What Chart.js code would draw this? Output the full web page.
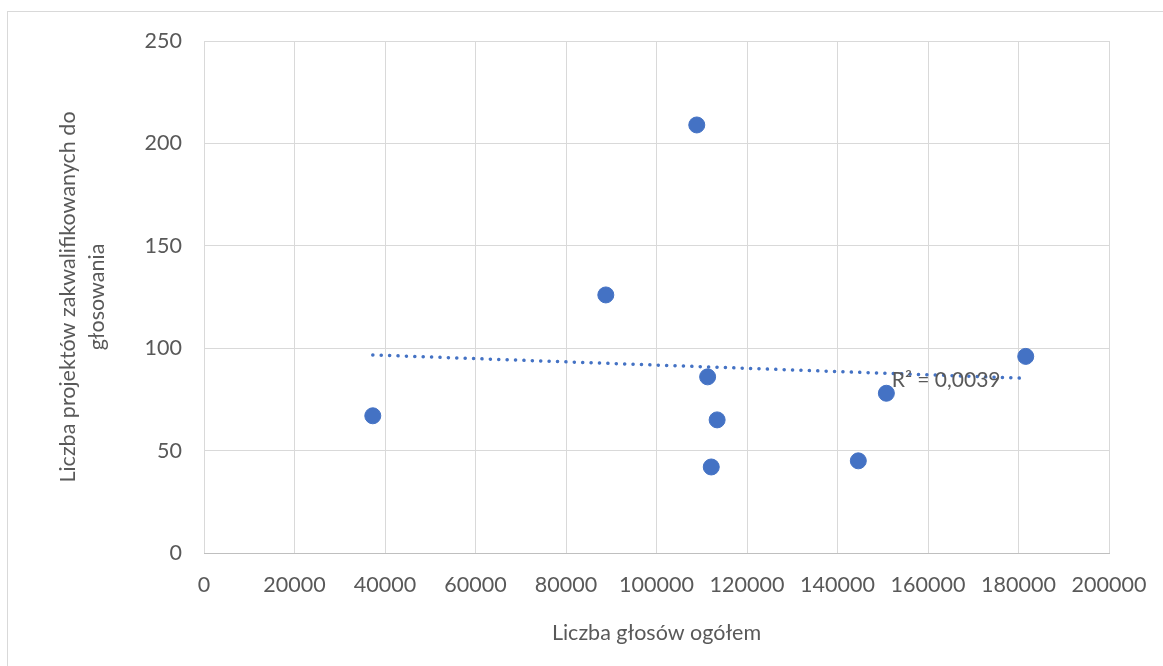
<!DOCTYPE html>
<html lang="pl">
<head>
  <meta charset="UTF-8">
  <title>Liczba projektów a liczba głosów</title>
  <script src="https://cdn.jsdelivr.net/npm/chart.js"></script>
  <style>
    html, body { margin: 0; padding: 0; background: #fff; }
    .wrap { width: 1163px; height: 666px; position: relative; }
  </style>
</head>
<body>
  <div class="wrap"><canvas id="chart"></canvas></div>

  <script>
    // dane
    const glosy = [37300, 88800, 108900, 111300, 113400, 112100, 144600, 150800, 181600];
    const projekty = [67, 126, 209, 86, 65, 42, 45, 78, 96];
    const xTicks = [0, 20000, 40000, 60000, 80000, 100000, 120000, 140000, 160000, 180000, 200000];
    const yTicks = [0, 50, 100, 150, 200, 250];
    const r2Label = 'R² = 0,0039';

    const textColor = '#595959';
    const gridColor = '#d9d9d9';
    const blue = '#4472c4';
    const fontFamily = 'Lato, "Open Sans", sans-serif';

    // linia trendu (regresja liniowa)
    const n = glosy.length;
    const mx = glosy.reduce((a, b) => a + b, 0) / n;
    const my = projekty.reduce((a, b) => a + b, 0) / n;
    let sxy = 0, sxx = 0;
    for (let i = 0; i < n; i++) {
      sxy += (glosy[i] - mx) * (projekty[i] - my);
      sxx += (glosy[i] - mx) ** 2;
    }
    const slope = sxy / sxx;
    const intercept = my - slope * mx;
    const xMin = Math.min(...glosy), xMax = Math.max(...glosy);
    const trend = [
      { x: xMin, y: intercept + slope * xMin },
      { x: xMax, y: intercept + slope * xMax }
    ];

    const frame = {
      id: 'frame',
      beforeDraw(chart) {
        const ctx = chart.ctx;
        ctx.save();
        ctx.strokeStyle = gridColor;
        ctx.lineWidth = 1;
        ctx.strokeRect(7.5, 11.5, 1300, 800);
        ctx.restore();
      }
    };

    const r2Text = {
      id: 'r2Text',
      afterDatasetsDraw(chart) {
        const ctx = chart.ctx;
        const x = chart.scales.x.getPixelForValue(xMax);
        const y = chart.scales.y.getPixelForValue(trend[1].y);
        ctx.save();
        ctx.fillStyle = textColor;
        ctx.font = '21px ' + fontFamily;
        ctx.textAlign = 'left';
        ctx.textBaseline = 'middle';
        ctx.fillText(r2Label, x - 134, y + 2);
        ctx.restore();
      }
    };

    new Chart(document.getElementById('chart'), {
      type: 'scatter',
      data: {
        datasets: [
          {
            label: 'Projekty',
            data: glosy.map((g, i) => ({ x: g, y: projekty[i] })),
            backgroundColor: blue,
            borderColor: blue,
            pointRadius: 8,
            pointHoverRadius: 8
          },
          {
            label: 'Trend',
            type: 'line',
            data: trend,
            borderColor: blue,
            borderWidth: 3.5,
            borderDash: [0.1, 8.3],
            borderCapStyle: 'round',
            pointRadius: 0,
            fill: false
          }
        ]
      },
      options: {
        responsive: true,
        maintainAspectRatio: false,
        animation: false,
        layout: { padding: { top: 41, right: 54, left: 0, bottom: 0 } },
        plugins: {
          legend: { display: false },
          tooltip: { enabled: false }
        },
        scales: {
          x: {
            type: 'linear',
            min: 0,
            max: 200000,
            afterBuildTicks: (s) => { s.ticks = xTicks.map(v => ({ value: v })); },
            afterFit: (s) => { s.height = 113; s.paddingLeft = 0; s.paddingRight = 0; },
            grid: { color: gridColor, drawTicks: false },
            border: { color: '#bfbfbf' },
            ticks: {
              color: textColor,
              font: { family: fontFamily, size: 21.5 },
              padding: 19,
              maxRotation: 0,
              callback: (v) => String(v)
            },
            title: {
              display: true,
              text: 'Liczba głosów ogółem',
              color: textColor,
              font: { family: fontFamily, size: 21.5 },
              padding: { bottom: 20 }
            }
          },
          y: {
            min: 0,
            max: 250,
            afterBuildTicks: (s) => { s.ticks = yTicks.map(v => ({ value: v })); },
            afterFit: (s) => { s.width = 204; s.paddingTop = 0; s.paddingBottom = 0; },
            grid: { color: gridColor, drawTicks: false },
            border: { display: false },
            ticks: {
              color: textColor,
              font: { family: fontFamily, size: 21.5 },
              padding: 22
            },
            title: {
              display: true,
              text: ['Liczba projektów zakwalifikowanych do', 'głosowania'],
              color: textColor,
              font: { family: fontFamily, size: 21.5, lineHeight: 1.35 },
              padding: { top: 53.5 }
            }
          }
        }
      },
      plugins: [frame, r2Text]
    });
  </script>
</body>
</html>
